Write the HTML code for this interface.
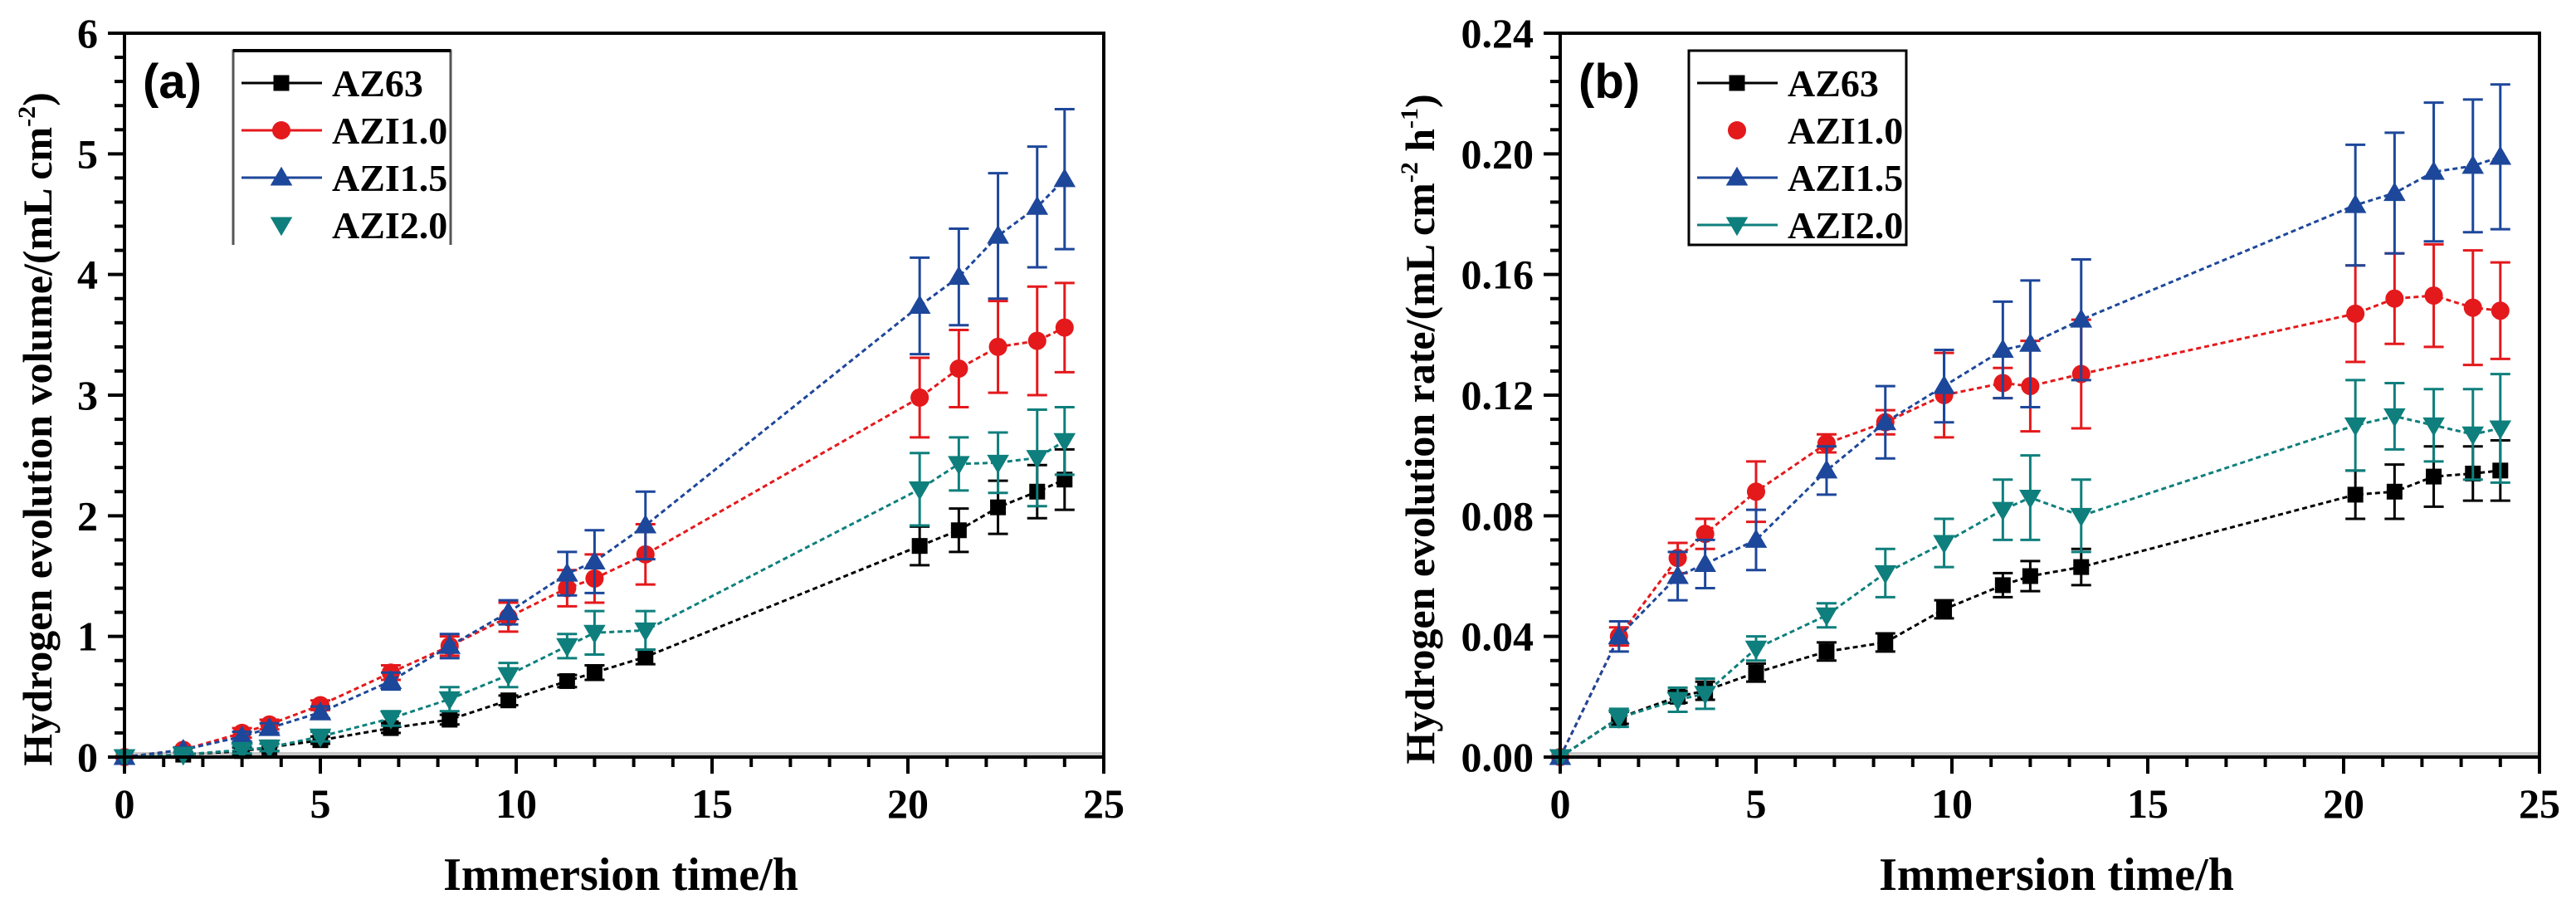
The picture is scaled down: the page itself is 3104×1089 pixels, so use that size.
<!DOCTYPE html>
<html><head><meta charset="utf-8"><style>
html,body{margin:0;padding:0;background:#fff}
svg{display:block}
text{font-family:"Liberation Serif",serif;font-weight:bold}
</style></head><body>
<svg id="fig" width="3104" height="1089" viewBox="0 0 3104 1089" xmlns="http://www.w3.org/2000/svg"></svg>
<script>
const times=[0,1.5,3,3.7,5,6.8,8.3,9.8,11.3,12,13.3,20.3,21.3,22.3,23.3,24];
const seriesNames=["AZ63","AZI1.0","AZI1.5","AZI2.0"];
const volAZ63=[0,0.02,0.05,0.08,0.14,0.24,0.31,0.47,0.63,0.70,0.83,1.75,1.88,2.07,2.2,2.3];
const volAZI10=[0,0.06,0.2,0.27,0.43,0.7,0.92,1.16,1.4,1.48,1.68,2.98,3.22,3.4,3.45,3.56];
const volAZI15=[0,0.06,0.17,0.24,0.37,0.63,0.92,1.2,1.52,1.62,1.92,3.74,3.98,4.32,4.56,4.79];
const volAZI20=[0,0.02,0.06,0.08,0.17,0.32,0.48,0.68,0.92,1.03,1.05,2.22,2.43,2.44,2.48,2.62];
const volErrAZ63=[0,0.02,0.03,0.03,0.03,0.04,0.04,0.04,0.05,0.06,0.06,0.16,0.18,0.22,0.22,0.25];
const volErrAZI10=[0,0.02,0.04,0.04,0.04,0.06,0.08,0.12,0.15,0.2,0.25,0.33,0.32,0.38,0.45,0.37];
const volErrAZI15=[0,0.02,0.04,0.04,0.05,0.07,0.1,0.1,0.18,0.26,0.28,0.4,0.4,0.52,0.5,0.58];
const volErrAZI20=[0,0.02,0.03,0.03,0.04,0.06,0.1,0.1,0.1,0.18,0.16,0.3,0.22,0.25,0.4,0.28];
const rateAZ63=[0,0.013,0.020,0.022,0.028,0.035,0.038,0.049,0.057,0.060,0.063,0.087,0.088,0.093,0.094,0.095];
const rateAZI10=[0,0.040,0.066,0.074,0.088,0.104,0.111,0.120,0.124,0.123,0.127,0.147,0.152,0.153,0.149,0.148];
const rateAZI15=[0,0.040,0.060,0.064,0.072,0.095,0.111,0.123,0.135,0.137,0.145,0.183,0.187,0.194,0.196,0.199];
const rateAZI20=[0,0.013,0.019,0.021,0.036,0.047,0.061,0.071,0.082,0.086,0.080,0.110,0.113,0.110,0.107,0.109];
const rateErrAZ63=[0,0.002,0.002,0.003,0.003,0.003,0.003,0.003,0.004,0.005,0.006,0.008,0.009,0.01,0.009,0.01];
const rateErrAZI10=[0,0.003,0.005,0.005,0.01,0.003,0.004,0.014,0.005,0.015,0.018,0.016,0.015,0.017,0.019,0.016];
const rateErrAZI15=[0,0.005,0.008,0.008,0.01,0.008,0.012,0.012,0.016,0.021,0.02,0.02,0.02,0.023,0.022,0.024];
const rateErrAZI20=[0,0.003,0.004,0.005,0.004,0.004,0.008,0.008,0.01,0.014,0.012,0.015,0.011,0.012,0.015,0.018];
const xTicks=[0,5,10,15,20,25];
const volTicks=[0,1,2,3,4,5,6];
const rateTicks=["0.00","0.04","0.08","0.12","0.16","0.20","0.24"];

const NS="http://www.w3.org/2000/svg";
const svg=document.getElementById("fig");
const colors=["#000000","#e4191c","#1d479a","#0e7f7c"];
function el(tag,attrs,parent){const e=document.createElementNS(NS,tag);for(const k in attrs)e.setAttribute(k,attrs[k]);(parent||svg).appendChild(e);return e;}
function marker(g,kind,cx,cy,c,s){
  if(kind===0)return el("rect",{x:cx-s/2,y:cy-s/2,width:s,height:s,fill:c},g);
  if(kind===1)return el("circle",{cx:cx,cy:cy,r:s*0.58,fill:c},g);
  if(kind===2)return el("polygon",{points:`${cx},${cy-s*0.7} ${cx+s*0.7},${cy+s*0.5} ${cx-s*0.7},${cy+s*0.5}`,fill:c},g);
  return el("polygon",{points:`${cx},${cy+s*0.7} ${cx+s*0.7},${cy-s*0.5} ${cx-s*0.7},${cy-s*0.5}`,fill:c},g);
}
function panel(opt){
  const L=opt.L,R=L+1180,T=40,B=912;
  const xs=v=>L+v/25*(R-L);
  const ys=v=>B-v/opt.ymax*(B-T);
  const g=el("g",{});
  
  
  el("line",{x1:L,y1:B-3,x2:R,y2:B-3,stroke:"#c8c8c8","stroke-width":6},g);
  opt.data.forEach((vals,si)=>{
    const c=colors[si];
    const sg=el("g",{},g);
    
    
    const pts=times.map((t,i)=>xs(t)+","+ys(vals[i])).join(" ");
    const pl=el("polyline",{points:pts,fill:"none",stroke:c,"stroke-width":3,"stroke-dasharray":"6,4"},sg);
    
    
    times.forEach((t,i)=>{
      const e=opt.err[si][i];
      if(e>0){
        const x=xs(t),y1=ys(vals[i]+e),y2=ys(vals[i]-e);
        const eb=el("path",{d:`M${x},${y1}V${y2}M${x-12},${y1}H${x+12}M${x-12},${y2}H${x+12}`,stroke:c,"stroke-width":3,fill:"none"},sg);
        
        
      }
      const m=marker(sg,si,xs(t),ys(vals[i]),c,19);
      
      
    });
  });
  el("rect",{x:L,y:T,width:R-L,height:B-T,fill:"none",stroke:"#000","stroke-width":4},g);
  for(let v=0;v<=25;v++){
    const major=v%5===0;
    el("line",{x1:xs(v),y1:B,x2:xs(v),y2:B+(major?20:12),stroke:"#000","stroke-width":4},g);
  }
  xTicks.forEach(v=>{
    const t=el("text",{x:xs(v),y:985,"font-size":50,"text-anchor":"middle"},g);t.textContent=v;
    
    
  });
  const n=opt.yLabels.length-1;
  for(let k=0;k<=n*5;k++){
    const y=B-k/(n*5)*(B-T);const major=k%5===0;
    el("line",{x1:L,y1:y,x2:L-(major?20:12),y2:y,stroke:"#000","stroke-width":4},g);
  }
  opt.yLabels.forEach((lab,k)=>{
    const t=el("text",{x:L-32,y:B-k/n*(B-T)+17,"font-size":50,"text-anchor":"end"},g);t.textContent=lab;
    
    
  });
  const xt=el("text",{x:L+598,y:1072,"font-size":56,"text-anchor":"middle"},g);
  xt.textContent="Immersion time/h";
  
  
  const yt=el("text",{x:0,y:0,"font-size":50,"text-anchor":"middle",transform:`translate(${opt.yTitleX},${opt.yTitleY}) rotate(-90)`},g);
  yt.innerHTML=opt.yTitle;
  
  
  const pl=el("text",{x:L+22,y:118,"font-size":58,style:"font-family:'Liberation Sans',sans-serif;font-weight:bold"},g);
  pl.textContent=opt.letter;
  
  
  const lg=el("g",{},g);
  
  
  const lx=opt.legX,lw=262,ly=61,lh=234;
  if(opt.legFull) el("rect",{x:lx,y:ly,width:lw,height:lh,fill:"#fff",stroke:"#000","stroke-width":3},lg);
  else{ el("rect",{x:lx,y:ly,width:lw,height:lh,fill:"#fff"},lg);
    el("path",{d:`M${lx},${ly+lh}V${ly}H${lx+lw}V${ly+lh}`,fill:"none",stroke:"#555","stroke-width":3},lg);
    el("line",{x1:lx,y1:ly,x2:lx+lw,y2:ly,stroke:"#000","stroke-width":4},lg);}
  seriesNames.forEach((nm,si)=>{
    const y=100+si*57;
    const en=el("g",{},lg);
    
    
    if(si!==opt.noLine) el("line",{x1:lx+10,y1:y,x2:lx+107,y2:y,stroke:colors[si],"stroke-width":3},en);
    marker(en,si,lx+58,y,colors[si],19);
    const t=el("text",{x:lx+119,y:y+16,"font-size":46},en);t.textContent=nm;
  });
}
panel({name:"panel-a-volume",L:150,ymax:6,data:[volAZ63,volAZI10,volAZI15,volAZI20],err:[volErrAZ63,volErrAZI10,volErrAZI15,volErrAZI20],
  yLabels:volTicks.map(String),yTitle:'Hydrogen evolution volume/(mL cm<tspan dy="-20" font-size="30">-2</tspan><tspan dy="20">)</tspan>',
  yTitleX:62,yTitleY:517,letter:"(a)",legX:281,legFull:false,noLine:3});
panel({name:"panel-b-rate",L:1880,ymax:0.24,data:[rateAZ63,rateAZI10,rateAZI15,rateAZI20],err:[rateErrAZ63,rateErrAZI10,rateErrAZI15,rateErrAZI20],
  yLabels:rateTicks,yTitle:'Hydrogen evolution rate/(mL cm<tspan dy="-20" font-size="30">-2</tspan><tspan dy="20"> h</tspan><tspan dy="-20" font-size="30">-1</tspan><tspan dy="20">)</tspan>',
  yTitleX:1728,yTitleY:517,letter:"(b)",legX:2035,legFull:true,noLine:1});
</script>
</body></html>
